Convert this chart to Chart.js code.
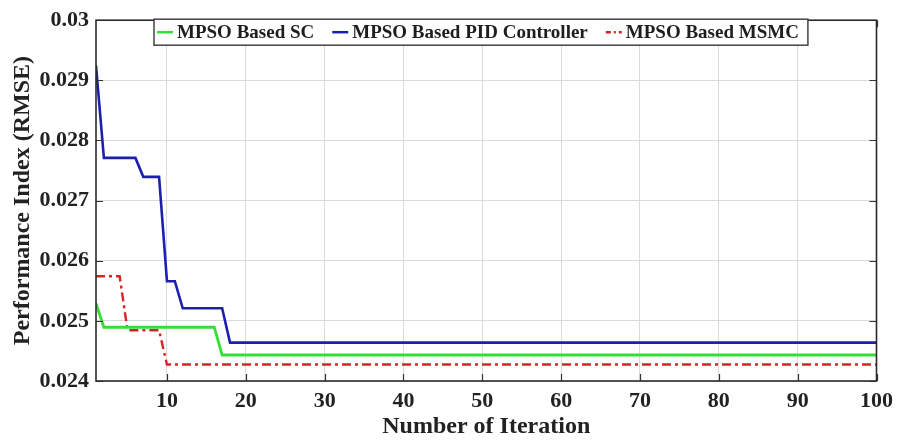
<!DOCTYPE html>
<html>
<head>
<meta charset="utf-8">
<script src="https://cdn.jsdelivr.net/npm/chart.js@4.4.0/dist/chart.umd.min.js"></script>
<style>
  html, body { margin: 0; padding: 0; background: #fff; }
</style>
</head>
<body>
<canvas id="myChart" width="900" height="444"></canvas>
<script>
const xTicks = [10, 20, 30, 40, 50, 60, 70, 80, 90, 100];
const yTicks = [0.024, 0.025, 0.026, 0.027, 0.028, 0.029, 0.03];

const scIter = [1, 2, 16, 17, 100];
const scRmse = [0.02529, 0.024894, 0.024894, 0.024432, 0.024432];

const pidIter = [1, 2, 6, 7, 9, 10, 11, 12, 17, 18, 100];
const pidRmse = [0.029245, 0.02771, 0.02771, 0.027395, 0.027395, 0.02566, 0.02566, 0.02521, 0.02521, 0.024638, 0.024638];

const msmcIter = [1, 4, 5, 9, 10, 100];
const msmcRmse = [0.025742, 0.025742, 0.024845, 0.024845, 0.024274, 0.024274];

const serif = '"Liberation Serif", "Times New Roman", serif';

function pts(xs, ys) {
    return xs.map((x, i) => ({ x: x, y: ys[i] }));
}

// MATLAB-like box, inward ticks and a framed legend inside the axes
const boxPlugin = {
    id: 'boxPlugin',
    afterDatasetsDraw(chart) {
        const ctx = chart.ctx;
        const a = chart.chartArea;
        const xs = chart.scales.x, ys = chart.scales.y;
        ctx.save();
        ctx.strokeStyle = '#333';
        ctx.lineWidth = 1.2;
        ctx.beginPath();
        xTicks.forEach(v => {
            const px = Math.round(xs.getPixelForValue(v)) + 0.5;
            ctx.moveTo(px, a.bottom); ctx.lineTo(px, a.bottom - 7);
            ctx.moveTo(px, a.top); ctx.lineTo(px, a.top + 7);
        });
        yTicks.forEach(v => {
            const py = Math.round(ys.getPixelForValue(v)) + 0.5;
            ctx.moveTo(a.left, py); ctx.lineTo(a.left + 7, py);
            ctx.moveTo(a.right, py); ctx.lineTo(a.right - 7, py);
        });
        ctx.stroke();
        ctx.lineWidth = 1.6;
        ctx.strokeStyle = '#2a2a2a';
        ctx.strokeRect(a.left, a.top, a.right - a.left, a.bottom - a.top);
        ctx.restore();
    },
    afterDraw(chart) {
        const ctx = chart.ctx;
        const a = chart.chartArea;
        ctx.save();
        ctx.font = 'bold 19px ' + serif;
        const sets = chart.data.datasets;
        const lineLen = 16, gapIn = 4, gapOut = 18;
        const widths = sets.map(d => ctx.measureText(d.label).width);
        let content = 0;
        widths.forEach((w, i) => { content += lineLen + gapIn + w + (i < widths.length - 1 ? gapOut : 0); });
        const boxW = content + 3 + 9;
        const boxH = 26;
        const bx = Math.round((a.left + a.right) / 2 - 5 - boxW / 2);
        const by = a.top - 1;
        ctx.fillStyle = '#fff';
        ctx.fillRect(bx, by, boxW, boxH);
        ctx.strokeStyle = '#444';
        ctx.lineWidth = 1.5;
        ctx.strokeRect(bx, by, boxW, boxH);
        let x = bx + 3;
        const cy = by + boxH / 2;
        sets.forEach((d, i) => {
            ctx.strokeStyle = d.borderColor;
            ctx.lineWidth = 2.5;
            ctx.setLineDash(d.borderDash ? [5, 3, 2, 3] : []);
            ctx.beginPath();
            ctx.moveTo(x, cy); ctx.lineTo(x + lineLen, cy);
            ctx.stroke();
            ctx.setLineDash([]);
            x += lineLen + gapIn;
            ctx.fillStyle = '#1e1e1e';
            ctx.textBaseline = 'middle';
            ctx.textAlign = 'left';
            ctx.fillText(d.label, x, cy + 1);
            x += widths[i] + gapOut;
        });
        ctx.restore();
    }
};

const data = {
    datasets: [{
        label: 'MPSO Based SC',
        data: pts(scIter, scRmse),
        borderColor: 'rgb(50, 225, 50)',
        borderWidth: 2.8
    }, {
        label: 'MPSO Based PID Controller',
        data: pts(pidIter, pidRmse),
        borderColor: 'rgb(30, 30, 175)',
        borderWidth: 2.6
    }, {
        label: 'MPSO Based MSMC',
        data: pts(msmcIter, msmcRmse),
        borderColor: 'rgb(215, 35, 35)',
        borderWidth: 2.4,
        borderDash: [9, 4, 3, 4]
    }]
};

const config = {
    type: 'line',
    data: data,
    options: {
        responsive: false,
        animation: false,
        devicePixelRatio: 1,
        layout: { padding: { left: 0, right: 16, top: 13, bottom: 0 } },
        elements: { point: { radius: 0 }, line: { tension: 0, fill: false } },
        plugins: { legend: { display: false }, tooltip: { enabled: false } },
        scales: {
            x: {
                type: 'linear',
                min: 1,
                max: 100,
                afterBuildTicks: s => { s.ticks = xTicks.map(v => ({ value: v })); },
                afterFit: s => { s.height = 63; },
                grid: { color: '#dadada', drawTicks: false },
                border: { display: false },
                ticks: {
                    autoSkip: false, maxRotation: 0, padding: 7, color: '#222',
                    font: { family: serif, size: 22, weight: 'bold' }
                },
                title: {
                    display: true, text: 'Number of Iteration', color: '#222',
                    font: { family: serif, size: 24, weight: 'bold' },
                    padding: { top: 0, bottom: 3 }
                }
            },
            y: {
                min: 0.024,
                max: 0.03,
                afterBuildTicks: s => { s.ticks = yTicks.map(v => ({ value: v })); },
                afterFit: s => { s.width = 96; },
                grid: { color: '#dadada', drawTicks: false },
                border: { display: false },
                ticks: {
                    padding: 7, color: '#222',
                    font: { family: serif, size: 22, weight: 'bold' },
                    callback: v => String(+v.toFixed(3))
                },
                title: {
                    display: true, text: 'Performance Index (RMSE)', color: '#222',
                    font: { family: serif, size: 24, weight: 'bold' },
                    padding: { top: 8, bottom: 0 }
                }
            }
        }
    },
    plugins: [boxPlugin]
};

const myChart = new Chart(document.getElementById('myChart'), config);
</script>
</body>
</html>
